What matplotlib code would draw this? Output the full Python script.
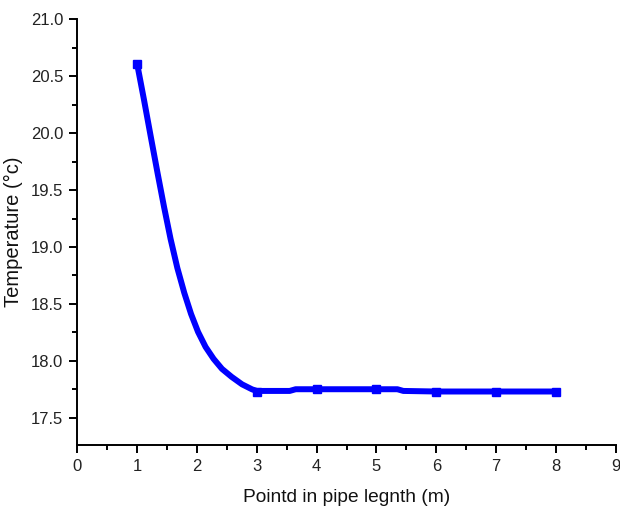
import matplotlib
matplotlib.use('Agg')
import matplotlib.pyplot as plt
import numpy as np
from matplotlib.ticker import MultipleLocator, FormatStrFormatter

plt.rcParams['font.family'] = ['Liberation Sans', 'DejaVu Sans']

# measured points (markers)
point_x = [1, 3, 4, 5, 6, 7, 8]
temp = [20.61, 17.73, 17.75, 17.75, 17.73, 17.73, 17.73]

# smoothed connecting line
curve_x = [1.0, 1.115, 1.229, 1.341, 1.450, 1.559, 1.672, 1.788, 1.901, 2.018,
           2.144, 2.278, 2.418, 2.579, 2.754, 2.921, 3.0, 3.55, 3.65, 4.0,
           5.0, 5.35, 5.45, 6.0, 7.0, 8.0]
curve_y = [20.61, 20.293, 19.967, 19.651, 19.352, 19.071, 18.816, 18.597, 18.412, 18.254,
           18.122, 18.017, 17.929, 17.859, 17.793, 17.749, 17.735, 17.735, 17.75, 17.75,
           17.75, 17.75, 17.735, 17.73, 17.73, 17.73]

fig = plt.figure(figsize=(6.2, 5.13), dpi=100)
ax = fig.add_axes([0.1247, 0.1326, 0.8684, 0.8294])

ax.plot(curve_x, curve_y, '-', color='#0000ff', lw=4.3, solid_joinstyle='round',
        solid_capstyle='butt', zorder=3)
ax.plot(point_x, temp, 's', color='#0000ff', ms=6, zorder=4)

ax.set_xlim(0, 9)
ax.set_ylim(17.26, 21.0)
ax.xaxis.set_major_locator(MultipleLocator(1))
ax.xaxis.set_minor_locator(MultipleLocator(0.5))
ax.yaxis.set_major_locator(MultipleLocator(0.5))
ax.yaxis.set_minor_locator(MultipleLocator(0.25))
ax.yaxis.set_major_formatter(FormatStrFormatter('%.1f'))

for s in ['top', 'right']:
    ax.spines[s].set_visible(False)
for s in ['left', 'bottom']:
    ax.spines[s].set_linewidth(1.4)
ax.tick_params(which='major', direction='out', length=6, width=1.4, labelsize=12,
               labelcolor='#222222', pad=4)
ax.tick_params(which='minor', direction='out', length=3.5, width=1.4)

ax.set_xlabel('Pointd in pipe legnth (m)', fontsize=13.8, color='#111111', labelpad=11)
ax.set_ylabel('Temperature (°c)', fontsize=14.5, color='#111111', labelpad=6)

fig.savefig('out.png', dpi=100)
